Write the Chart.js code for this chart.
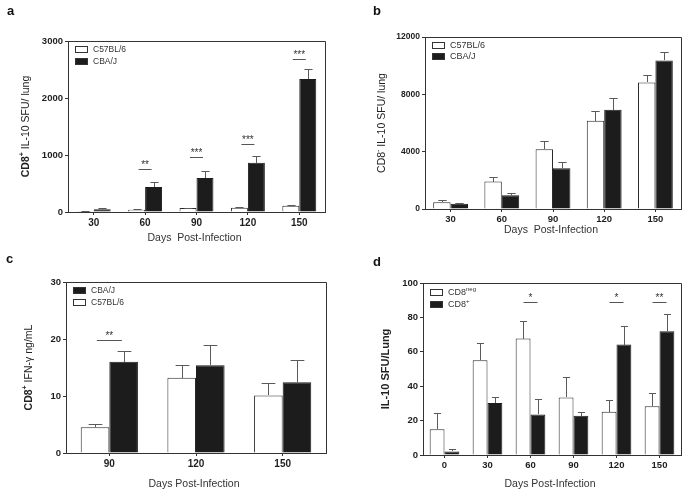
<!DOCTYPE html>
<html>
<head>
<meta charset="utf-8">
<script src="https://cdn.jsdelivr.net/npm/chart.js@4.4.1/dist/chart.umd.min.js"></script>
<style>
  body { margin: 0; background: #fff; width: 686px; height: 492px; position: relative; overflow: hidden; }
  .panel { position: absolute; width: 343px; height: 246px; }
</style>
</head>
<body>
<div class="panel" style="left:0;top:0"><canvas id="chartA" width="343" height="246"></canvas></div>
<div class="panel" style="left:343px;top:0"><canvas id="chartB" width="343" height="246"></canvas></div>
<div class="panel" style="left:0;top:246px"><canvas id="chartC" width="343" height="246"></canvas></div>
<div class="panel" style="left:343px;top:246px"><canvas id="chartD" width="343" height="246"></canvas></div>
<script>
// panel a: CD8+ IL-10 SFU / lung
const daysA = ['30', '60', '90', '120', '150'];
const c57A = [6, 41, 70, 76, 111];
const c57SemA = [3, 11, 8, 11, 11];
const cbaA = [50, 440, 595, 862, 2335];
const cbaSemA = [15, 95, 118, 122, 170];
const sigA = ['', '**', '***', '***', '***'];
const sigLevelA = [0, 750, 960, 1195, 2685];

// panel b: CD8- IL-10 SFU / lung
const daysB = ['30', '60', '90', '120', '150'];
const c57B = [466, 1911, 4171, 6151, 8831];
const c57SemB = [140, 349, 582, 653, 513];
const cbaB = [373, 955, 2843, 6920, 10369];
const cbaSemB = [46, 187, 466, 793, 606];

// panel c: CD8+ IFN-g ng/mL
const daysC = ['90', '120', '150'];
const c57C = [4.5, 13.2, 10.1];
const c57SemC = [0.55, 2.2, 2.1];
const cbaC = [16.0, 15.4, 12.4];
const cbaSemC = [1.9, 3.5, 4.0];
const sigC = ['**', '', ''];
const sigLevelC = [19.9, 0, 0];

// panel d: IL-10 SFU / Lung
const daysD = ['0', '30', '60', '90', '120', '150'];
const negD = [14.9, 55.1, 67.7, 33.5, 25.1, 28.4];
const negSemD = [9.7, 10.3, 10.2, 12.0, 6.6, 7.4];
const posD = [2.1, 30.2, 23.6, 22.8, 64.2, 72.0];
const posSemD = [1.6, 3.6, 8.7, 2.3, 11.0, 10.2];
const sigD = ['', '', '*', '', '*', '**'];
const sigLevelD = [0, 0, 88.8, 0, 88.8, 88.8];

const FONT = '"Liberation Sans", Arial, sans-serif';
const INK = '#1e1e1e';
const BAR_BLACK = '#1c1c1c';
const ERR = '#5a5a5a';

function font(size, bold) {
  return (bold ? 'bold ' : '') + size + 'px ' + FONT;
}

// draws text made of pieces, some bold, some superscript
function drawSegs(ctx, segs, x, y, size, color, center) {
  const parts = segs.map(s => {
    const sz = s.sup ? Math.round(size * 0.68) : size;
    ctx.font = font(sz, s.bold);
    return { s, sz, w: ctx.measureText(s.t).width };
  });
  const total = parts.reduce((a, p) => a + p.w, 0);
  let cx = center ? x - total / 2 : x;
  ctx.fillStyle = color;
  ctx.textBaseline = 'middle';
  ctx.textAlign = 'left';
  parts.forEach(p => {
    ctx.font = font(p.sz, p.s.bold);
    ctx.fillText(p.s.t, cx, p.s.sup ? y - size * 0.38 : y);
    cx += p.w;
  });
}

function makeDecor(cfg) {
  return {
    id: 'decor',
    afterDatasetsDraw(chart) {
      const ctx = chart.ctx;
      const y = chart.scales.y;
      ctx.save();
      // error bars, upward only
      chart.data.datasets.forEach((ds, di) => {
        const meta = chart.getDatasetMeta(di);
        meta.data.forEach((bar, i) => {
          const top = y.getPixelForValue(ds.data[i] + ds.sem[i]);
          const x = Math.round(bar.x) + 0.5;
          const half = bar.width * 0.24;
          ctx.strokeStyle = ERR;
          ctx.lineWidth = 1;
          ctx.beginPath();
          ctx.moveTo(x, Math.round(bar.y));
          ctx.lineTo(x, Math.round(top) + 0.5);
          ctx.moveTo(x - half, Math.round(top) + 0.5);
          ctx.lineTo(x + half, Math.round(top) + 0.5);
          ctx.stroke();
        });
      });
      // significance marks
      if (cfg.sig) {
        const xs = chart.scales.x;
        cfg.sig.forEach((s, i) => {
          if (!s) return;
          const cx = xs.getPixelForValue(i);
          const ly = Math.round(y.getPixelForValue(cfg.sigLevel[i])) + 0.5;
          ctx.strokeStyle = '#555';
          ctx.beginPath();
          ctx.moveTo(cx - cfg.sigWidth / 2, ly);
          ctx.lineTo(cx + cfg.sigWidth / 2, ly);
          ctx.stroke();
          ctx.fillStyle = '#333';
          ctx.font = font(10, false);
          ctx.textAlign = 'center';
          ctx.textBaseline = 'alphabetic';
          ctx.fillText(s, cx, ly - 2);
        });
      }
      ctx.restore();
    },
    afterDraw(chart) {
      const ctx = chart.ctx;
      const a = chart.chartArea;
      ctx.save();
      // top and right frame lines
      ctx.strokeStyle = '#333';
      ctx.lineWidth = 1;
      ctx.beginPath();
      ctx.moveTo(a.left, Math.round(a.top) + 0.5);
      ctx.lineTo(Math.round(a.right) + 0.5, Math.round(a.top) + 0.5);
      ctx.lineTo(Math.round(a.right) + 0.5, a.bottom);
      ctx.stroke();
      // legend
      cfg.legend.forEach((item, k) => {
        const ry = a.top + cfg.legendTop + k * cfg.legendGap;
        const bx = a.left + 7;
        ctx.fillStyle = item.fill;
        ctx.fillRect(bx, Math.round(ry - 3), 13, 7);
        ctx.strokeStyle = '#333';
        ctx.strokeRect(bx + 0.5, Math.round(ry - 3) + 0.5, 12, 6);
        drawSegs(ctx, item.label, bx + 18, ry + 0.5, cfg.legendSize, '#333', false);
      });
      // panel letter
      ctx.fillStyle = '#111';
      ctx.font = font(13, true);
      ctx.textAlign = 'left';
      ctx.textBaseline = 'middle';
      ctx.fillText(cfg.letter, cfg.letterPos[0], cfg.letterPos[1]);
      // axis titles
      drawSegs(ctx, [{ t: cfg.xTitle }], (a.left + a.right) / 2 - 2, a.bottom + cfg.xTitleGap, 10.5, '#333', true);
      ctx.translate(cfg.yTitleX, (a.top + a.bottom) / 2);
      ctx.rotate(-Math.PI / 2);
      drawSegs(ctx, cfg.yTitle, 0, 0, cfg.yTitleSize, '#222', true);
      ctx.restore();
    }
  };
}

function makeChart(id, cfg) {
  const W = 343, H = 246;
  const area = cfg.area;
  const ds = cfg.series.map(s => ({
    data: s.data,
    sem: s.sem,
    backgroundColor: s.white ? '#ffffff' : BAR_BLACK,
    borderColor: s.white ? '#2a2a2a' : BAR_BLACK,
    borderWidth: 1,
    borderSkipped: 'bottom',
    categoryPercentage: cfg.catPct,
    barPercentage: 1.0
  }));
  return new Chart(document.getElementById(id), {
    type: 'bar',
    data: { labels: cfg.labels, datasets: ds },
    options: {
      responsive: false,
      animation: false,
      devicePixelRatio: 1,
      events: [],
      layout: { padding: { left: 0, top: area.top, right: W - area.right, bottom: 0 } },
      plugins: { legend: { display: false }, tooltip: { enabled: false } },
      scales: {
        x: {
          afterFit: s => { s.height = H - area.bottom; },
          grid: { display: true, drawOnChartArea: false, offset: false, tickLength: 3, color: '#333' },
          border: { display: true, color: '#333', width: 1 },
          ticks: { color: INK, font: { family: FONT, size: cfg.xTickSize, weight: 'bold' }, padding: 2, maxRotation: 0 }
        },
        y: {
          min: 0,
          max: cfg.yMax,
          afterFit: s => { s.width = area.left; },
          grid: { display: true, drawOnChartArea: false, tickLength: 3, color: '#333' },
          border: { display: true, color: '#333', width: 1 },
          ticks: {
            stepSize: cfg.yStep,
            color: INK,
            font: { family: FONT, size: cfg.yTickSize, weight: 'bold' },
            padding: 2,
            callback: v => String(v)
          }
        }
      }
    },
    plugins: [makeDecor(cfg)]
  });
}

makeChart('chartA', {
  area: { left: 68, top: 41, right: 325, bottom: 212 },
  labels: daysA,
  series: [
    { data: c57A, sem: c57SemA, white: true },
    { data: cbaA, sem: cbaSemA, white: false }
  ],
  catPct: 0.66, yMax: 3000, yStep: 1000, yTickSize: 9.5, xTickSize: 10,
  sig: sigA, sigLevel: sigLevelA, sigWidth: 13,
  legend: [
    { fill: '#fff', label: [{ t: 'C57BL/6' }] },
    { fill: BAR_BLACK, label: [{ t: 'CBA/J' }] }
  ],
  legendTop: 8, legendGap: 12, legendSize: 8.5,
  letter: 'a', letterPos: [7, 11],
  xTitle: 'Days  Post-Infection', xTitleGap: 26,
  yTitleX: 26, yTitleSize: 10.5,
  yTitle: [{ t: 'CD8', bold: true }, { t: '+', sup: true, bold: true }, { t: ' IL-10 SFU/ lung' }]
});

makeChart('chartB', {
  area: { left: 82, top: 37, right: 338, bottom: 209 },
  labels: daysB,
  series: [
    { data: c57B, sem: c57SemB, white: true },
    { data: cbaB, sem: cbaSemB, white: false }
  ],
  catPct: 0.68, yMax: 12000, yStep: 4000, yTickSize: 8.5, xTickSize: 9.5,
  legend: [
    { fill: '#fff', label: [{ t: 'C57BL/6' }] },
    { fill: BAR_BLACK, label: [{ t: 'CBA/J' }] }
  ],
  legendTop: 8, legendGap: 11, legendSize: 9,
  letter: 'b', letterPos: [30, 11],
  xTitle: 'Days  Post-Infection', xTitleGap: 21,
  yTitleX: 39, yTitleSize: 10.5,
  yTitle: [{ t: 'CD8' }, { t: '-', sup: true }, { t: ' IL-10 SFU/ lung' }]
});

makeChart('chartC', {
  area: { left: 66, top: 36, right: 326, bottom: 207 },
  labels: daysC,
  series: [
    { data: c57C, sem: c57SemC, white: true },
    { data: cbaC, sem: cbaSemC, white: false }
  ],
  catPct: 0.66, yMax: 30, yStep: 10, yTickSize: 9.5, xTickSize: 10,
  sig: sigC, sigLevel: sigLevelC, sigWidth: 25,
  legend: [
    { fill: BAR_BLACK, label: [{ t: 'CBA/J' }] },
    { fill: '#fff', label: [{ t: 'C57BL/6' }] }
  ],
  legendTop: 8, legendGap: 12, legendSize: 8.5,
  letter: 'c', letterPos: [6, 13],
  xTitle: 'Days Post-Infection', xTitleGap: 31,
  yTitleX: 29, yTitleSize: 10.5,
  yTitle: [{ t: 'CD8', bold: true }, { t: '+', sup: true, bold: true }, { t: ' IFN-\u03b3 ng/mL' }]
});

makeChart('chartD', {
  area: { left: 80, top: 37, right: 338, bottom: 209 },
  labels: daysD,
  series: [
    { data: negD, sem: negSemD, white: true },
    { data: posD, sem: posSemD, white: false }
  ],
  catPct: 0.69, yMax: 100, yStep: 20, yTickSize: 9.5, xTickSize: 9.5,
  sig: sigD, sigLevel: sigLevelD, sigWidth: 14,
  legend: [
    { fill: '#fff', label: [{ t: 'CD8' }, { t: 'neg', sup: true }] },
    { fill: BAR_BLACK, label: [{ t: 'CD8' }, { t: '+', sup: true }] }
  ],
  legendTop: 9, legendGap: 12, legendSize: 9,
  letter: 'd', letterPos: [30, 16],
  xTitle: 'Days Post-Infection', xTitleGap: 29,
  yTitleX: 43, yTitleSize: 11,
  yTitle: [{ t: 'IL-10 SFU/Lung', bold: true }]
});
</script>
</body>
</html>
